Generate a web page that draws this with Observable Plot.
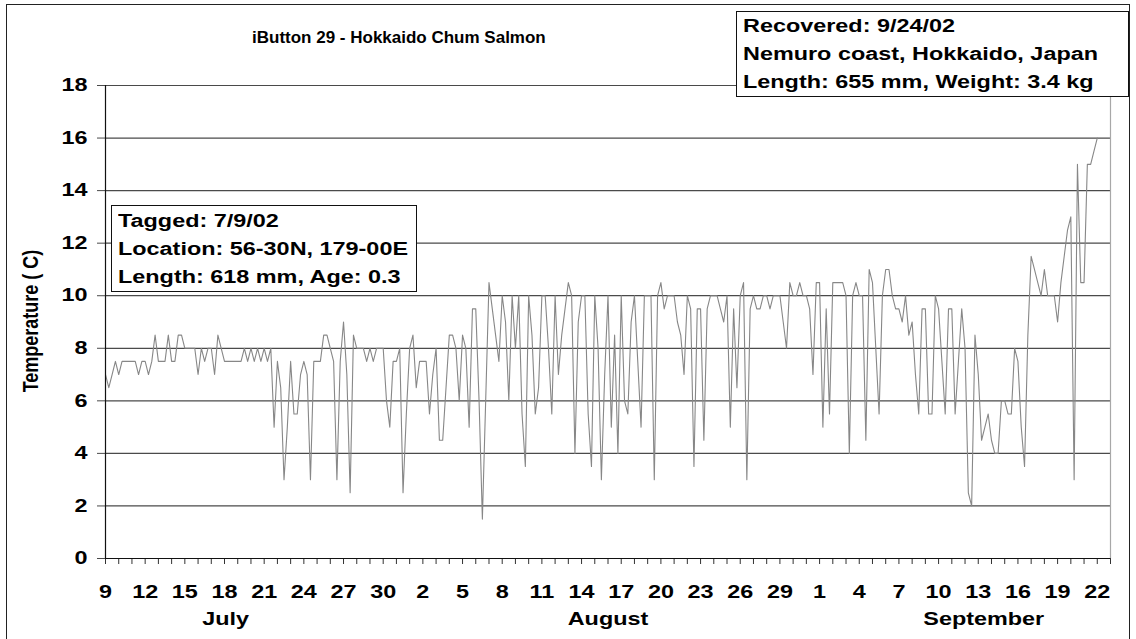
<!DOCTYPE html>
<html><head><meta charset="utf-8">
<script src="https://cdn.jsdelivr.net/npm/d3@7"></script>
<script src="https://cdn.jsdelivr.net/npm/@observablehq/plot@0.6"></script>
<style>
html,body{margin:0;padding:0;background:#fff;}
#wrap{position:relative;width:1136px;height:639px;overflow:hidden;font-family:"Liberation Sans",Arial,sans-serif;font-weight:bold;color:#000;background:#fff;}
#chart{position:absolute;left:0;top:0;}
.frame{position:absolute;left:6px;top:4px;width:1124px;height:700px;border:1.5px solid #222;box-sizing:border-box;}
.title{position:absolute;top:28px;left:252px;font-size:17px;white-space:nowrap;}
.box{position:absolute;background:#fff;border:1.2px solid #111;box-sizing:border-box;}
.box div{font-size:18px;line-height:28px;white-space:nowrap;transform-origin:left center;transform:scaleX(1.3);}
.ylab{position:absolute;left:31px;top:321px;font-size:18px;white-space:nowrap;transform:translate(-50%,-50%) rotate(-90deg) scaleY(1.25);}
</style></head>
<body>
<div id="wrap">
  <div id="chart"></div>
  <div class="frame"></div>
  <div class="title">iButton 29 - Hokkaido Chum Salmon</div>
  <div class="ylab">Temperature ( C)</div>
  <div class="box" style="left:111px;top:205px;width:306px;height:87px;padding:1px 0 0 6px;">
    <div>Tagged: 7/9/02</div>
    <div>Location: 56-30N, 179-00E</div>
    <div>Length: 618 mm, Age: 0.3</div>
  </div>
  <div class="box" style="left:736px;top:11px;width:393px;height:86px;padding:0 0 0 6px;">
    <div>Recovered: 9/24/02</div>
    <div>Nemuro coast, Hokkaido, Japan</div>
    <div>Length: 655 mm, Weight: 3.4 kg</div>
  </div>
</div>
<script>
// Series: temperature (°C), one reading every 6 hours from 9 July 2002 00:00 UTC
const startDate = "2002-07-09";
const endDate = "2002-09-23";
const sampleHours = 6;
const temps = [
  7, 6.5, 7, 7.5,      7, 7.5, 7.5, 7.5,    7.5, 7.5, 7, 7.5,    7.5, 7, 7.5, 8.5,
  7.5, 7.5, 7.5, 8.5,  7.5, 7.5, 8.5, 8.5,  8, 8, 8, 8,          7, 8, 7.5, 8,
  8, 7, 8.5, 8,        7.5, 7.5, 7.5, 7.5,  7.5, 7.5, 8, 7.5,    8, 7.5, 8, 7.5,
  8, 7.5, 8, 5,        7.5, 6.5, 3, 5,      7.5, 5.5, 5.5, 7,    7.5, 7, 3, 7.5,
  7.5, 7.5, 8.5, 8.5,  8, 7.5, 3, 7.5,      9, 7, 2.5, 8.5,      8, 8, 8, 7.5,
  8, 7.5, 8, 8,        8, 6, 5, 7.5,        7.5, 8, 2.5, 5.5,    8, 8.5, 6.5, 7.5,
  7.5, 7.5, 5.5, 7,    8, 4.5, 4.5, 6.5,    8.5, 8.5, 8, 6,      8.5, 8, 5, 9.5,
  9.5, 6, 1.5, 6,      10.5, 9.5, 8.5, 7.5, 10, 9, 6, 10,        8, 10, 5.5, 3.5,
  10, 8.5, 5.5, 6.5,   10, 10, 8, 5.5,      10, 7, 8.5, 9.5,     10.5, 10, 4, 9,
  10, 10, 5.5, 3.5,    10, 8, 3, 7,         10, 5, 8.5, 4,       10, 6, 5.5, 9,
  10, 7.5, 5, 10,      10, 10, 3, 10,       10.5, 9.5, 10, 10,   10, 9, 8.5, 7,
  10, 9.5, 3.5, 9.5,   9.5, 4.5, 9.5, 10,   10, 10, 9.5, 9,      10, 5, 9.5, 6.5,
  10, 10.5, 3, 9.5,    10, 9.5, 9.5, 10,    10, 9.5, 10, 10,     10, 9, 8, 10.5,
  10, 10, 10.5, 10,    10, 9.5, 7, 10.5,    10.5, 5, 9.5, 5.5,   10.5, 10.5, 10.5, 10.5,
  10, 4, 10, 10.5,     10, 10, 4.5, 11,     10.5, 8, 5.5, 10,    11, 11, 10, 9.5,
  9.5, 9, 10, 8.5,     9, 7, 5.5, 9.5,      9.5, 5.5, 5.5, 10,   9.5, 7.5, 5.5, 9.5,
  9.5, 5.5, 7.5, 9.5,  8, 2.5, 2, 8.5,      7, 4.5, 5, 5.5,      4.5, 4, 4, 6,
  6, 5.5, 5.5, 8,      7.5, 5, 3.5, 8.5,    11.5, 11, 10.5, 10,  11, 10, 10, 10,
  9, 10.5, 11.5, 12.5, 13, 3, 15, 10.5,     10.5, 15, 15, 15.5,  16
];
const yTicks = [0, 2, 4, 6, 8, 10, 12, 14, 16, 18];
const monthNames = ["July", "August", "September"];
const monthLabelDates = ["2002-07-18T02:00Z", "2002-08-16T00:00Z", "2002-09-13T10:00Z"];

const start = new Date(startDate + "T00:00Z");
const end = new Date(endDate + "T00:00Z");
const data = temps.map((t, i) => ({date: new Date(+start + i * sampleHours * 3600e3), temp: t}));
const dayTicks = d3.utcDay.range(start, d3.utcDay.offset(end, 1));
const labelTicks = d3.utcDay.range(start, end, 3);
const months = monthNames.map((m, i) => ({name: m, date: new Date(monthLabelDates[i])}));

const plot = Plot.plot({
  width: 1136, height: 639,
  marginLeft: 105, marginRight: 26, marginTop: 85, marginBottom: 81,
  style: {fontFamily: "'Liberation Sans', Arial, sans-serif", fontSize: "18px", fontWeight: "bold", color: "#000", background: "transparent", overflow: "visible"},
  x: {type: "utc", domain: [start, end]},
  y: {domain: [0, 18]},
  marks: [
    Plot.ruleY(yTicks.filter(d => d > 0), {stroke: "#4a4a4a", strokeWidth: 1.2}),
    Plot.ruleX([end], {stroke: "#a8a8a8", strokeWidth: 1.2}),
    Plot.axisY({ticks: yTicks, tickSize: 8, tickPadding: 10, label: null, stroke: "#4a4a4a"}),
    Plot.axisX({ticks: dayTicks, tickSize: 6, tickFormat: () => "", label: null, stroke: "#333"}),
    Plot.axisX({ticks: labelTicks, tickSize: 0, tickPadding: 27, tickFormat: d3.utcFormat("%-d"), label: null}),
    Plot.text(months, {x: "date", text: "name", frameAnchor: "bottom", dy: 66, fontSize: 18}),
    Plot.line(data, {x: "date", y: "temp", stroke: "#878787", strokeWidth: 1.1}),
    Plot.ruleY([0], {stroke: "#111", strokeWidth: 1.2}),
    Plot.ruleX([start], {stroke: "#111", strokeWidth: 1.2})
  ]
});
// emulate the horizontally stretched lettering of the original chart
plot.querySelectorAll("text").forEach(el => {
  const t = el.getAttribute("transform");
  if (t) el.setAttribute("transform", t + " scale(1.3,1)");
  else {
    const x = el.getAttribute("x") || 0, y = el.getAttribute("y") || 0;
    el.removeAttribute("x"); el.removeAttribute("y");
    el.setAttribute("transform", `translate(${x},${y}) scale(1.3,1)`);
  }
});
document.getElementById("chart").appendChild(plot);
</script>
</body></html>
